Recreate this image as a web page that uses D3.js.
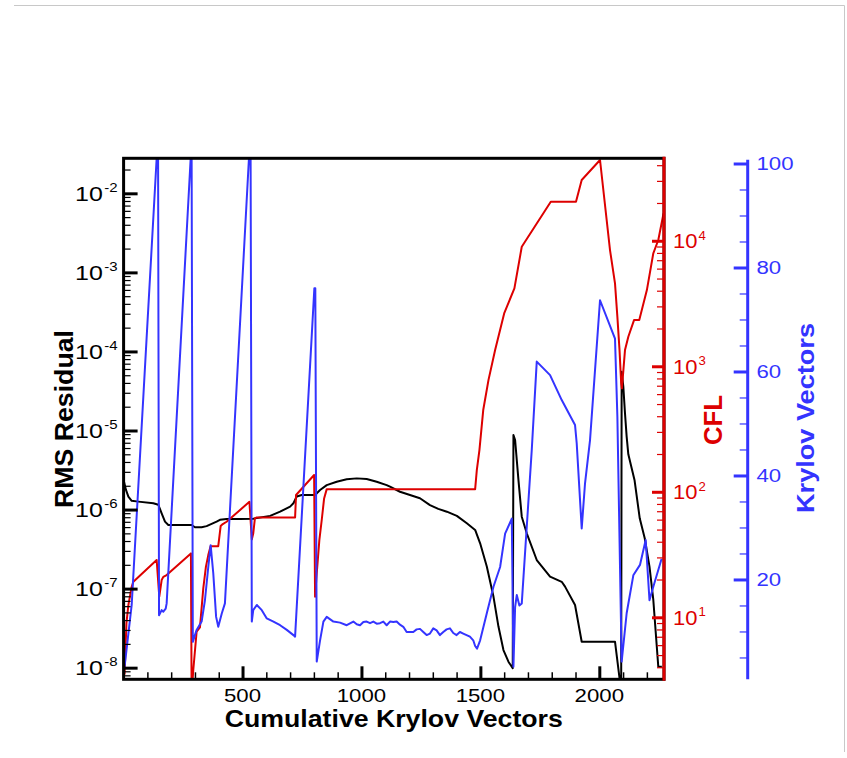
<!DOCTYPE html>
<html>
<head>
<meta charset="utf-8">
<script src="https://cdn.jsdelivr.net/npm/d3@7"></script>
<style>
  html, body { margin: 0; padding: 0; background: #fff; }
  svg { display: block; font-family: "Liberation Sans", Arial, Helvetica, sans-serif; }
</style>
</head>
<body>
<svg id="chart" width="847" height="758"></svg>
<script>
// ---- data: convergence history ----
const xTicks = [500, 1000, 1500, 2000];
const resTicks = [-8, -7, -6, -5, -4, -3, -2];      // exponents of RMS residual
const cflTicks = [1, 2, 3, 4];                       // exponents of CFL
const kryTicks = [20, 40, 60, 80, 100];

// RMS residual vs cumulative Krylov vectors
const resX = [0, 10, 20, 34, 62, 125, 146, 160, 174, 188, 286, 300, 328, 349, 391, 405, 433, 490, 545, 616,
  658, 700, 714, 728, 749, 805, 826, 854, 896, 938, 980, 1022, 1064, 1106, 1120, 1162, 1204, 1246, 1288, 1323,
  1359, 1401, 1443, 1478, 1499, 1527, 1555, 1576, 1597, 1618, 1636, 1639, 1646, 1660, 1674, 1695, 1737, 1793,
  1842, 1856, 1898, 1926, 2066, 2092, 2094, 2101, 2108, 2115, 2122, 2148, 2170, 2191, 2211, 2227, 2248, 2263];
const resY = [2.37e-6, 1.77e-6, 1.46e-6, 1.29e-6, 1.26e-6, 1.20e-6, 1.15e-6, 8.97e-7, 7.03e-7, 6.38e-7, 6.38e-7,
  5.97e-7, 5.97e-7, 6.17e-7, 7.03e-7, 7.41e-7, 7.59e-7, 7.59e-7, 7.67e-7, 8.32e-7, 9.40e-7, 1.09e-6, 1.20e-6,
  1.46e-6, 1.53e-6, 1.53e-6, 1.77e-6, 2.04e-6, 2.25e-6, 2.42e-6, 2.48e-6, 2.44e-6, 2.25e-6, 2.04e-6, 1.95e-6,
  1.68e-6, 1.53e-6, 1.39e-6, 1.14e-6, 1.02e-6, 9.40e-7, 8.32e-7, 6.70e-7, 5.52e-7, 3.74e-7, 1.90e-7, 7.94e-8,
  3.31e-8, 1.67e-8, 1.19e-8, 9.84e-9, 8.77e-6, 7.59e-6, 2.37e-6, 8.13e-7, 5.01e-7, 2.30e-7, 1.42e-7, 1.22e-7,
  1.06e-7, 6.21e-8, 2.13e-8, 2.13e-8, 5.0e-9, 5.53e-5, 3.58e-5, 1.65e-5, 8.36e-6, 5.0e-6, 2.37e-6, 7.76e-7,
  4.34e-7, 1.90e-7, 7.24e-8, 1.03e-8, 1.03e-8];

// CFL number
const cflX = [4, 12, 20, 34, 41, 139, 150, 160, 167, 181, 283, 286, 293, 307, 321, 335, 346, 356, 366, 398, 408,
  417, 433, 529, 539, 545, 552, 560, 721, 725, 801, 805, 812, 823, 833, 843, 854, 1478, 1485, 1496, 1512, 1534,
  1562, 1600, 1643, 1674, 1796, 1902, 1926, 2003, 2045, 2066, 2076, 2085, 2092, 2095, 2108, 2122, 2146, 2168,
  2200, 2227, 2248, 2270];
const cflY = [3.5, 9, 12.5, 17.5, 19.2, 28.6, 14.6, 19.8, 21, 21.7, 32.3, 2.5, 3.8, 7.7, 8.3, 17, 25.2, 31.3, 36.9,
  36.9, 53.3, 55.3, 57.7, 83.2, 41.7, 46.5, 61.3, 62.5, 62.5, 94.2, 136, 14.6, 22.4, 41.2, 59.6, 88.5, 105, 105,
  149, 215, 448, 776, 1346, 2636, 4178, 8953, 20470, 20470, 30480, 44000, 8430, 4570, 2477, 1346, 730, 667, 1346,
  1718, 2333, 2333, 4045, 7943, 10140, 16530];

// Krylov vectors per nonlinear iteration
const kryX = [4, 34, 139, 145, 149, 160, 167, 177, 181, 282, 286, 291, 307, 328, 342, 356, 366, 377, 389, 398, 413,
  426, 527, 534, 539, 545, 560, 581, 602, 630, 658, 686, 714, 721, 802, 806, 812, 826, 840, 854, 882, 910, 938,
  966, 980, 994, 1008, 1022, 1036, 1050, 1064, 1078, 1092, 1106, 1120, 1134, 1148, 1162, 1176, 1190, 1204, 1218,
  1232, 1246, 1260, 1274, 1288, 1302, 1316, 1330, 1344, 1358, 1372, 1386, 1400, 1414, 1428, 1442, 1456, 1470,
  1478, 1486, 1499, 1527, 1555, 1583, 1604, 1632, 1639, 1646, 1653, 1664, 1674, 1716, 1737, 1793, 1842, 1898,
  1905, 1926, 1940, 1961, 2003, 2066, 2076, 2094, 2115, 2143, 2171, 2195, 2211, 2227, 2262];
const kryY = [3.2, 15.1, 101, 101, 13.1, 14.1, 13.8, 14.4, 15.4, 101, 101, 8.0, 10.3, 11.9, 16, 22.4, 26.6, 21.2,
  12.8, 10.9, 13.5, 15.4, 101, 101, 11.9, 14.1, 15.1, 14.1, 12.5, 11.9, 11.2, 10.3, 9.3, 9.0, 76, 76, 4.2, 8.3,
  11.9, 12.8, 11.9, 11.7, 11.2, 11.9, 11.4, 11.2, 11.8, 11.9, 11.6, 11.9, 11.5, 11.6, 11.9, 11.2, 11.9, 11.8,
  11.9, 11.3, 10.9, 9.9, 9.9, 9.9, 10.4, 10.5, 9.9, 9.3, 9.6, 10.6, 10.2, 9.3, 9.9, 10.4, 10.6, 9.7, 9.3, 9.9,
  9.6, 9.3, 9.0, 8.3, 7.2, 6.7, 8.3, 13.5, 18.6, 22.4, 28.8, 31.7, 3.2, 14.7, 17, 15, 15.4, 44.9, 61.9, 59.3,
  54.5, 49.7, 46.2, 29.8, 38.5, 46.8, 73.7, 66.3, 51.3, 4.2, 13.5, 20.8, 22.8, 27.6, 16, 18.6, 24];

// ---- layout ----
const L = 123.6, R = 664, T = 158.3, B = 679.3;
const kryAxisX = 747.7;
const RED = "#dd0000", BLUE = "#3434ff";

const svg = d3.select("#chart");

// outer page border
svg.append("path").attr("d", "M14,5.5H844.5V752").attr("fill", "none")
  .attr("stroke", "#c8c8c8").attr("stroke-width", 1);

const x = d3.scaleLinear().domain([0, 2272]).range([L, R]);
const yRes = d3.scaleLog().domain([Math.pow(10, -8.147), Math.pow(10, -1.557)]).range([B, T]);
const yCfl = d3.scaleLog().domain([Math.pow(10, 0.506), Math.pow(10, 4.657)]).range([B, T]);
const yKry = d3.scaleLinear().domain([0.8, 101]).range([B, T]);

// minor tick helpers
function logMinors(scale) {
  const [a, b] = scale.domain();
  const out = [];
  for (let e = Math.floor(Math.log10(a)); e <= Math.ceil(Math.log10(b)); e++) {
    for (let k = 2; k <= 9; k++) {
      const v = k * Math.pow(10, e);
      if (v > a && v < b) out.push(v);
    }
  }
  return out;
}
const xMinor = d3.range(100, 2272, 100).filter(v => v % 500 !== 0);
const kryMinor = d3.range(5, 100, 5).filter(v => v % 20 !== 0);

function styleAxis(g, color, width) {
  g.select(".domain").remove();
  g.selectAll(".tick line").attr("stroke", color).attr("stroke-width", width);
  g.selectAll(".tick text").remove();
}

// ---- clipped plot content ----
svg.append("clipPath").attr("id", "plotClip")
  .append("rect").attr("x", L).attr("y", T).attr("width", R - L).attr("height", B - T);

const plot = svg.append("g").attr("clip-path", "url(#plotClip)");

const lineRes = d3.line().x((d, i) => x(resX[i])).y((d, i) => yRes(resY[i]));
const lineCfl = d3.line().x((d, i) => x(cflX[i])).y((d, i) => yCfl(cflY[i]));
const lineKry = d3.line().x((d, i) => x(kryX[i])).y((d, i) => yKry(kryY[i]));

plot.append("path").datum(resY).attr("d", lineRes).attr("fill", "none")
  .attr("stroke", "#000").attr("stroke-width", 2).attr("stroke-linejoin", "round");
plot.append("path").datum(cflY).attr("d", lineCfl).attr("fill", "none")
  .attr("stroke", RED).attr("stroke-width", 2).attr("stroke-linejoin", "round");
plot.append("path").datum(kryY).attr("d", lineKry).attr("fill", "none")
  .attr("stroke", BLUE).attr("stroke-width", 2).attr("stroke-linejoin", "round");

// ---- axes (ticks point into the plot) ----
// bottom
svg.append("g").attr("transform", `translate(0,${B})`)
  .call(d3.axisBottom(x).tickValues(xMinor).tickSize(-7).tickFormat(""))
  .call(g => styleAxis(g, "#000", 1.5));
svg.append("g").attr("transform", `translate(0,${B})`)
  .call(d3.axisBottom(x).tickValues(xTicks).tickSize(-13).tickFormat(""))
  .call(g => styleAxis(g, "#000", 3));

// left (residual)
svg.append("g").attr("transform", `translate(${L},0)`)
  .call(d3.axisLeft(yRes).tickValues(logMinors(yRes)).tickSize(-7).tickFormat(""))
  .call(g => styleAxis(g, "#000", 1.2));
svg.append("g").attr("transform", `translate(${L},0)`)
  .call(d3.axisLeft(yRes).tickValues(resTicks.map(e => Math.pow(10, e))).tickSize(-14).tickFormat(""))
  .call(g => styleAxis(g, "#000", 3));

// frame
svg.append("rect").attr("x", L).attr("y", T).attr("width", R - L).attr("height", B - T)
  .attr("fill", "none").attr("stroke", "#000").attr("stroke-width", 3);

// right (CFL)
svg.append("g").attr("transform", `translate(${R},0)`)
  .call(d3.axisRight(yCfl).tickValues(logMinors(yCfl)).tickSize(-7).tickFormat(""))
  .call(g => styleAxis(g, RED, 1.2));
svg.append("g").attr("transform", `translate(${R},0)`)
  .call(d3.axisRight(yCfl).tickValues(cflTicks.map(e => Math.pow(10, e))).tickSize(-12).tickFormat(""))
  .call(g => styleAxis(g, RED, 3));
svg.append("line").attr("x1", R).attr("x2", R).attr("y1", T - 1.5).attr("y2", B + 1.5)
  .attr("stroke", RED).attr("stroke-width", 3);

// far right (Krylov vectors)
svg.append("g").attr("transform", `translate(${kryAxisX},0)`)
  .call(d3.axisLeft(yKry).tickValues(kryMinor).tickSize(8).tickFormat(""))
  .call(g => styleAxis(g, BLUE, 1.2));
svg.append("g").attr("transform", `translate(${kryAxisX},0)`)
  .call(d3.axisLeft(yKry).tickValues(kryTicks).tickSize(14).tickFormat(""))
  .call(g => styleAxis(g, BLUE, 3));
svg.append("line").attr("x1", kryAxisX).attr("x2", kryAxisX).attr("y1", T + 1.5).attr("y2", B)
  .attr("stroke", BLUE).attr("stroke-width", 3);

// ---- tick labels ----
const labels = svg.append("g");

xTicks.forEach(v => {
  labels.append("text")
    .attr("transform", `translate(${x(v)},702) scale(1.2,1)`)
    .attr("text-anchor", "middle").attr("font-size", 18.5).attr("fill", "#000")
    .text(v);
});

function powLabel(anchor, tx, ty, sx, exp, color) {
  const t = labels.append("text")
    .attr("transform", `translate(${tx},${ty}) scale(${sx},1)`)
    .attr("text-anchor", anchor).attr("fill", color).attr("font-size", 20);
  t.append("tspan").text("10");
  t.append("tspan").attr("dy", -8.5).attr("dx", 1).attr("font-size", 12).text(exp);
}

resTicks.forEach(e => powLabel("end", 117.5, yRes(Math.pow(10, e)) + 7.3, 1.25, e < 0 ? "-" + (-e) : e, "#000"));
cflTicks.forEach(e => powLabel("start", 673, yCfl(Math.pow(10, e)) + 7.5, 1.1, e, RED));

kryTicks.forEach(v => {
  labels.append("text")
    .attr("transform", `translate(756.5,${yKry(v) + 6.7}) scale(1.2,1)`)
    .attr("text-anchor", "start").attr("font-size", 18.5).attr("fill", BLUE)
    .text(v);
});

// ---- axis titles ----
svg.append("text").attr("x", (L + R) / 2).attr("y", 727)
  .attr("text-anchor", "middle").attr("font-weight", "bold").attr("font-size", 24)
  .attr("textLength", 338).attr("lengthAdjust", "spacingAndGlyphs")
  .text("Cumulative Krylov Vectors");

svg.append("text").attr("transform", "translate(72.5,419) rotate(-90)")
  .attr("text-anchor", "middle").attr("font-weight", "bold").attr("font-size", 25)
  .attr("textLength", 178).attr("lengthAdjust", "spacingAndGlyphs")
  .text("RMS Residual");

svg.append("text").attr("transform", "translate(722,420) rotate(-90)")
  .attr("text-anchor", "middle").attr("font-weight", "bold").attr("font-size", 26).attr("fill", RED)
  .attr("textLength", 50).attr("lengthAdjust", "spacingAndGlyphs")
  .text("CFL");

svg.append("text").attr("transform", "translate(814,418) rotate(-90)")
  .attr("text-anchor", "middle").attr("font-weight", "bold").attr("font-size", 24).attr("fill", BLUE)
  .attr("textLength", 190).attr("lengthAdjust", "spacingAndGlyphs")
  .text("Krylov Vectors");
</script>
</body>
</html>
